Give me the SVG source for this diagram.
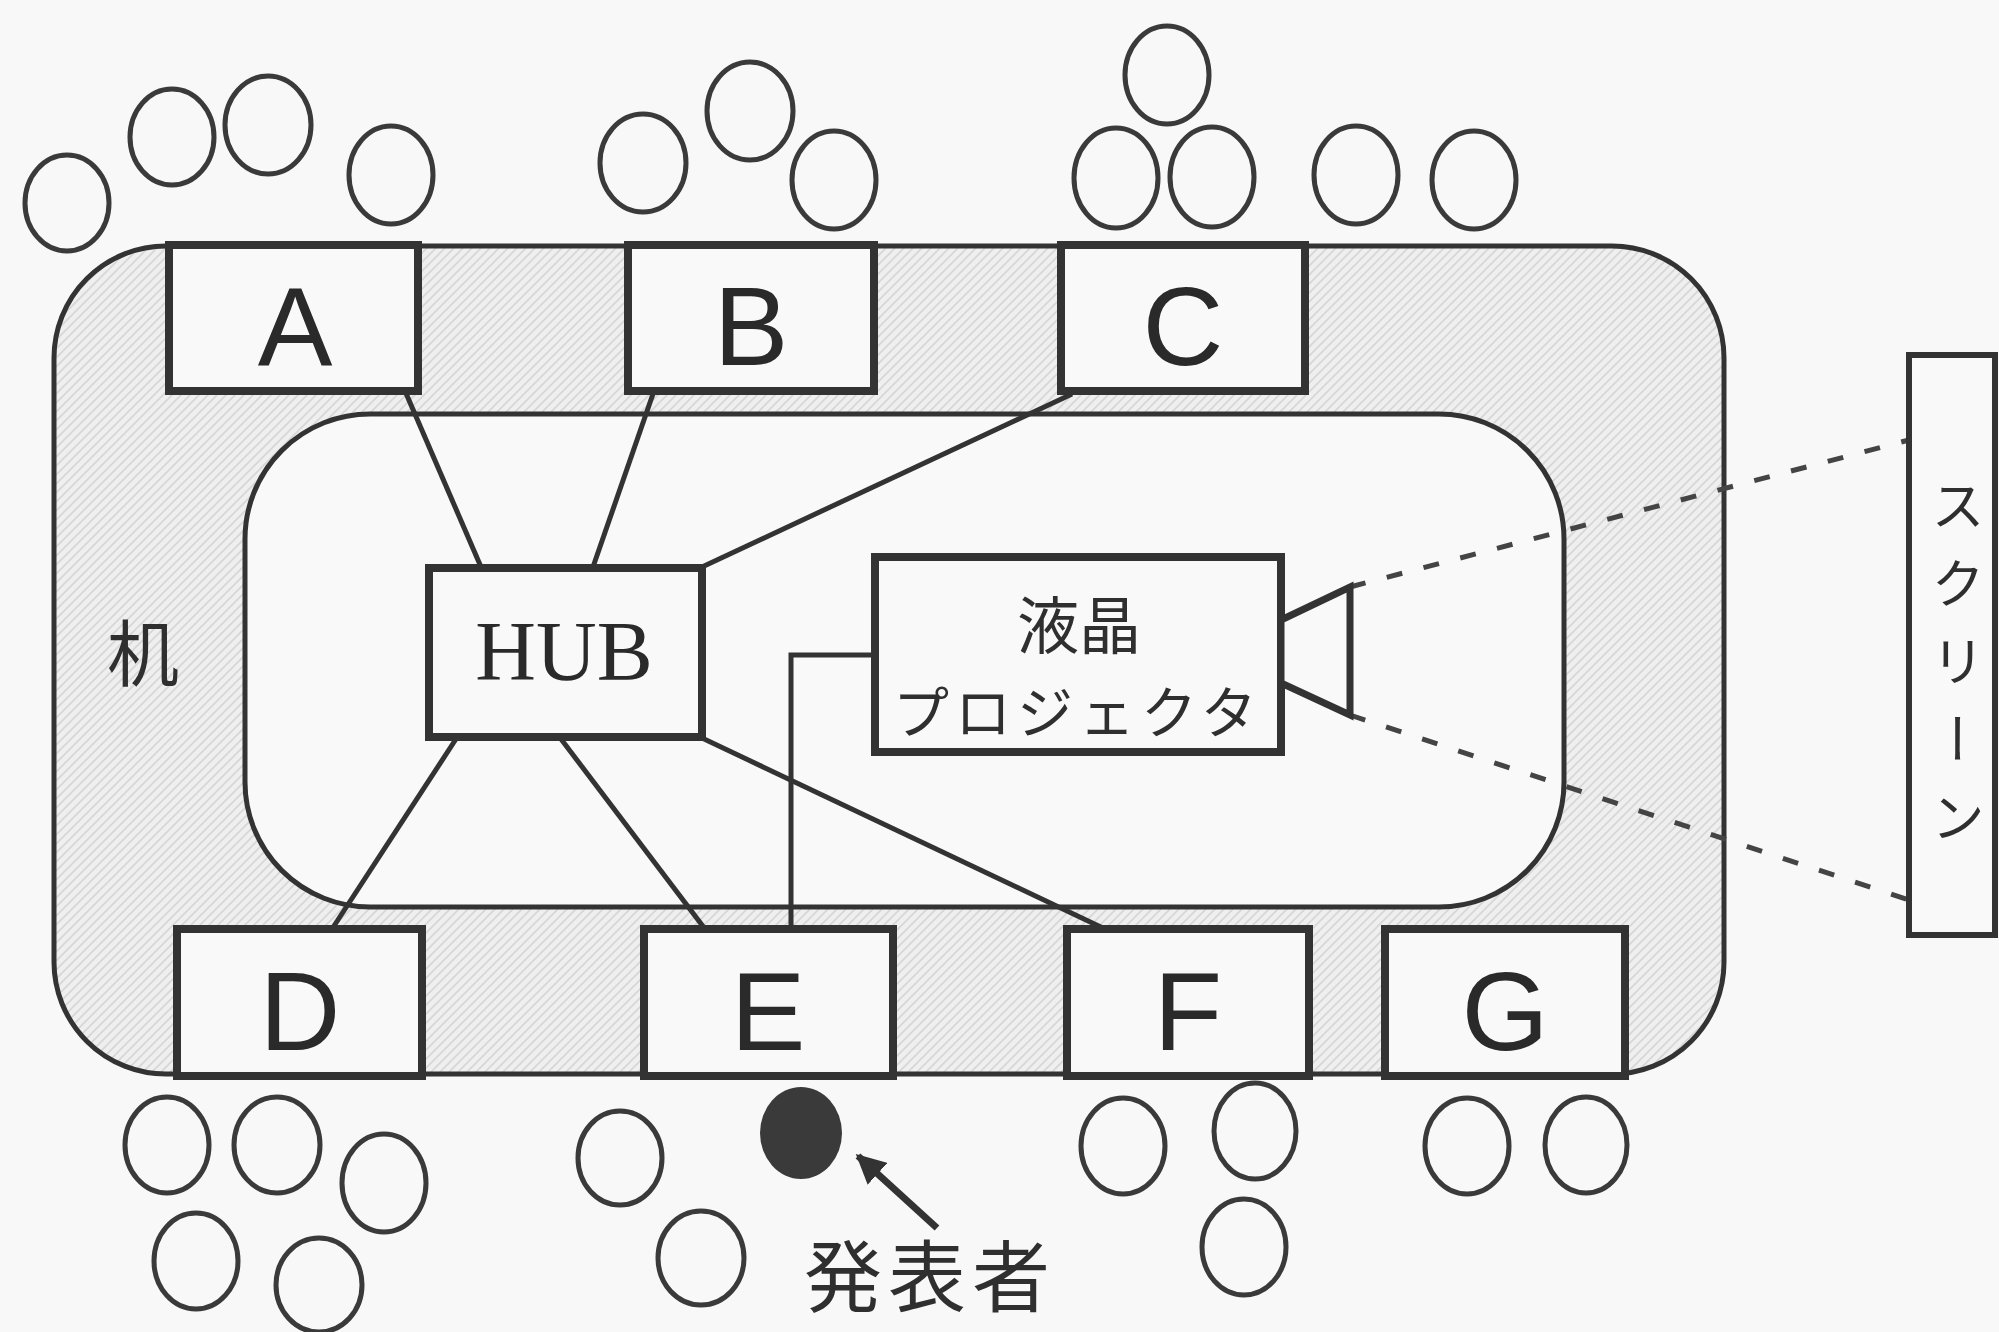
<svg xmlns="http://www.w3.org/2000/svg" width="1999" height="1332" viewBox="0 0 1999 1332">
<defs>
<pattern id="hatch" patternUnits="userSpaceOnUse" width="9" height="9">
<rect width="9" height="9" fill="#efefef"/>
<path d="M0,9 L9,0 M-2,2 L2,-2 M7,11 L11,7" stroke="#d6d6d6" stroke-width="1.6"/>
</pattern>
<marker id="arr" viewBox="0 0 10 10" refX="9" refY="5" markerWidth="4.2" markerHeight="4.2" orient="auto" markerUnits="strokeWidth">
<path d="M0,0 L10,5 L0,10 Z" fill="#333"/>
</marker>
<style>
.box{fill:#f9f9f9;stroke:#333;stroke-width:8}
.lbl{font-family:"Liberation Sans",Arial,sans-serif;font-size:112px;fill:#2a2a2a;text-anchor:middle}
.conn{stroke:#333;stroke-width:5;fill:none}
.chair{fill:none;stroke:#3a3a3a;stroke-width:5}
.jp{font-family:"Noto Sans CJK JP",sans-serif;fill:#2f2f2f}
.dash{stroke:#444;stroke-width:5;stroke-dasharray:16 22;fill:none}
</style>
</defs>
<rect width="1999" height="1332" fill="#f8f8f8"/>

<g id="table">
<rect x="54" y="246" width="1670" height="828" rx="112" ry="112" fill="url(#hatch)" stroke="#333" stroke-width="5"/>
<rect x="245" y="414" width="1319" height="493" rx="125" ry="125" fill="#f9f9f9" stroke="#333" stroke-width="5"/>
<text class="jp" x="143" y="680" font-size="72" text-anchor="middle">机</text>
</g>

<g id="connectors">
<line class="conn" x1="405" y1="391" x2="481" y2="567"/>
<line class="conn" x1="654" y1="391" x2="593" y2="567"/>
<line class="conn" x1="1072" y1="394" x2="702" y2="567"/>
<line class="conn" x1="456" y1="739" x2="332" y2="929"/>
<line class="conn" x1="561" y1="739" x2="705" y2="929"/>
<line class="conn" x1="702" y1="738" x2="1105" y2="929"/>
<polyline class="conn" points="877,655 791,655 791,929"/>
<line class="dash" x1="1350" y1="587" x2="1909" y2="440"/>
<line class="dash" x1="1350" y1="715" x2="1909" y2="900"/>
<line stroke="#333" stroke-width="7" x1="937" y1="1228" x2="858" y2="1156" marker-end="url(#arr)"/>
</g>

<g id="node-A"><rect class="box" x="169" y="245" width="249" height="146"/><text class="lbl" x="295" y="365">A</text></g>
<g id="node-B"><rect class="box" x="628" y="245" width="246" height="146"/><text class="lbl" x="751" y="365">B</text></g>
<g id="node-C"><rect class="box" x="1061" y="245" width="244" height="146"/><text class="lbl" x="1183" y="365">C</text></g>
<g id="node-D"><rect class="box" x="177" y="929" width="245" height="147"/><text class="lbl" x="300" y="1050">D</text></g>
<g id="node-E"><rect class="box" x="644" y="929" width="249" height="147"/><text class="lbl" x="768" y="1050">E</text></g>
<g id="node-F"><rect class="box" x="1067" y="929" width="242" height="147"/><text class="lbl" x="1188" y="1050">F</text></g>
<g id="node-G"><rect class="box" x="1385" y="929" width="240" height="147"/><text class="lbl" x="1505" y="1050">G</text></g>

<g id="node-HUB"><rect class="box" x="429" y="568" width="273" height="169"/><text x="564" y="680" font-family="'Liberation Serif','Times New Roman',serif" font-size="84" fill="#2a2a2a" text-anchor="middle">HUB</text></g>

<g id="node-projector">
<rect class="box" x="875" y="557" width="406" height="195"/>
<text class="jp" x="1079" y="649" font-size="62" text-anchor="middle">液晶</text>
<text class="jp" x="1078" y="733" font-size="56" text-anchor="middle" letter-spacing="6">プロジェクタ</text>
<polygon points="1281,620 1350,587 1350,715 1281,683" fill="#f9f9f9" stroke="#333" stroke-width="7" stroke-linejoin="miter"/>
</g>

<g id="node-screen">
<rect x="1909" y="355" width="86" height="580" fill="#f9f9f9" stroke="#333" stroke-width="6"/>
<text class="jp" x="1958" y="478" font-size="54" style="writing-mode:vertical-rl;text-orientation:upright" letter-spacing="24">スクリーン</text>
</g>

<g id="chairs">
<ellipse class="chair" cx="67" cy="203" rx="42" ry="48"/>
<ellipse class="chair" cx="172" cy="137" rx="42" ry="48"/>
<ellipse class="chair" cx="268" cy="125" rx="43" ry="49"/>
<ellipse class="chair" cx="391" cy="175" rx="42" ry="49"/>
<ellipse class="chair" cx="643" cy="163" rx="43" ry="49"/>
<ellipse class="chair" cx="750" cy="111" rx="43" ry="49"/>
<ellipse class="chair" cx="834" cy="180" rx="42" ry="49"/>
<ellipse class="chair" cx="1167" cy="75" rx="42" ry="49"/>
<ellipse class="chair" cx="1116" cy="178" rx="42" ry="50"/>
<ellipse class="chair" cx="1212" cy="177" rx="42" ry="50"/>
<ellipse class="chair" cx="1356" cy="175" rx="42" ry="49"/>
<ellipse class="chair" cx="1474" cy="180" rx="42" ry="49"/>
<ellipse class="chair" cx="167" cy="1145" rx="42" ry="48"/>
<ellipse class="chair" cx="277" cy="1145" rx="43" ry="48"/>
<ellipse class="chair" cx="384" cy="1183" rx="42" ry="49"/>
<ellipse class="chair" cx="196" cy="1261" rx="42" ry="48"/>
<ellipse class="chair" cx="319" cy="1285" rx="43" ry="47"/>
<ellipse class="chair" cx="620" cy="1158" rx="42" ry="47"/>
<ellipse class="chair" cx="701" cy="1258" rx="43" ry="47"/>
<ellipse class="chair" cx="1123" cy="1146" rx="42" ry="48"/>
<ellipse class="chair" cx="1255" cy="1131" rx="41" ry="48"/>
<ellipse class="chair" cx="1244" cy="1247" rx="42" ry="48"/>
<ellipse class="chair" cx="1467" cy="1146" rx="42" ry="48"/>
<ellipse class="chair" cx="1586" cy="1145" rx="41" ry="48"/>
</g>

<g id="presenter">
<ellipse cx="801" cy="1133" rx="41" ry="46" fill="#3a3a3a"/>
<text class="jp" x="930" y="1306" font-size="78" text-anchor="middle" letter-spacing="6">発表者</text>
</g>
</svg>
